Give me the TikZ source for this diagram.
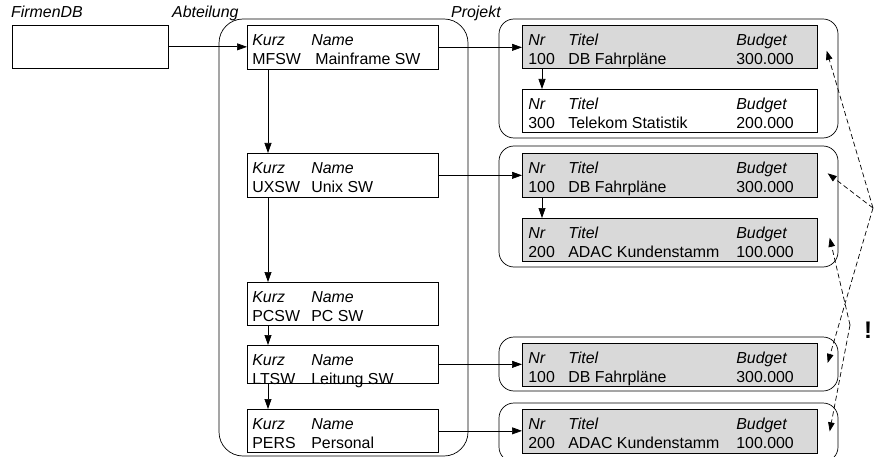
\documentclass[tikz,border=0pt]{standalone}
\usepackage{fontspec}
\setmainfont{Liberation Sans}
\usepackage{tikz}
\usetikzlibrary{arrows.meta, calc}

\definecolor{prjgrey}{RGB}{217,217,217}
\newcommand{\boxfont}{\fontsize{15.9}{19}\selectfont}
\newcommand{\abtrow}[3][59pt]{\makebox[59pt][l]{\itshape Kurz}{\itshape Name}\\\makebox[#1][l]{#2}#3}
\newcommand{\prjrow}[3]{\makebox[40pt][l]{\itshape Nr}\makebox[168pt][l]{\itshape Titel}{\itshape Budget}\\\makebox[40pt][l]{#1}\makebox[168pt][l]{#2}#3}

\tikzset{
  abtbox/.style={draw, line width=0.7pt, fill=white, anchor=north west,
    inner xsep=5pt, inner ysep=0pt, font=\boxfont,
    execute at begin node={\begin{minipage}[c][#1][t]{181pt}\rule{0pt}{20pt}},
    execute at end node={\end{minipage}}},
  abtbox/.default=44pt,
  prjbox/.style={draw, line width=0.7pt, fill=prjgrey, anchor=north west,
    inner xsep=6pt, inner ysep=0pt, font=\boxfont,
    execute at begin node={\begin{minipage}[c][#1][t]{283pt}\rule{0pt}{20pt}},
    execute at end node={\end{minipage}}},
  prjbox/.default=43pt,
  frame/.style={draw, line width=0.7pt, rounded corners=#1},
  frame/.default=15pt,
  lbl/.style={font=\boxfont\itshape, anchor=base west, inner sep=0pt},
  link/.style={line width=0.7pt, -{Triangle[length=10pt,width=7pt]}},
  hint/.style={line width=0.7pt, dash pattern=on 5pt off 3pt, -{Triangle[length=9pt,width=6.5pt]}}
}

\begin{document}
\begin{tikzpicture}[x=1pt, y=-1pt]
    \useasboundingbox (0,0) rectangle (885,457);
    % Labels
    \node[lbl] (lfirmen) at (11,18) {FirmenDB};
    \node[lbl] (labt) at (172,18) {Abteilung};
    \node[lbl] (lprj) at (451,18) {Projekt};
    % Frames
    \draw[frame=24pt] (219,19) rectangle (468,456);
    \draw[frame] (499,19) rectangle (838,138);
    \draw[frame] (499,146) rectangle (838,267);
    \draw[frame] (499,337) rectangle (838,391);
    \draw[frame] (499,403) rectangle (838,462);
    % FirmenDB
    \node[draw, line width=0.7pt, anchor=north west, minimum width=156pt, minimum height=43pt, inner sep=0pt] (firmen) at (12,25) {};
    % Abteilung
    \node[abtbox] (mfsw) at (247,25) {\abtrow[63pt]{MFSW}{Mainframe SW}};
    \node[abtbox] (uxsw) at (247,153) {\abtrow{UXSW}{Unix SW}};
    \node[abtbox=43pt] (pcsw) at (247,282) {\abtrow{PCSW}{PC SW}};
    \node[abtbox=38pt] (ltsw) at (247,345) {\abtrow{LTSW}{Leitung SW}};
    \node[abtbox=43pt] (pers) at (247,409) {\abtrow{PERS}{Personal}};
    % Projekt
    \node[prjbox] (db1) at (522,25) {\prjrow{100}{DB Fahrpläne}{300.000}};
    \node[prjbox, fill=white] (tel) at (522,89) {\prjrow{300}{Telekom Statistik}{200.000}};
    \node[prjbox=44pt] (db2) at (522,153) {\prjrow{100}{DB Fahrpläne}{300.000}};
    \node[prjbox] (adac1) at (522,218) {\prjrow{200}{ADAC Kundenstamm}{100.000}};
    \node[prjbox] (db3) at (522,343) {\prjrow{100}{DB Fahrpläne}{300.000}};
    \node[prjbox=44pt] (adac2) at (522,409) {\prjrow{200}{ADAC Kundenstamm}{100.000}};
    % Arrows
    \draw[link] (firmen.east) -- (firmen.east -| mfsw.west);
    \draw[link] ([xshift=21pt]mfsw.south west) -- ([xshift=21pt]uxsw.north west);
    \draw[link] ([xshift=21pt]uxsw.south west) -- ([xshift=21pt]pcsw.north west);
    \draw[link] ([xshift=21pt]pcsw.south west) -- ([xshift=21pt]ltsw.north west);
    \draw[link] ([xshift=21pt]ltsw.south west) -- ([xshift=21pt]pers.north west);
    \draw[link] (mfsw.east) -- (mfsw.east -| db1.west);
    \draw[link] (uxsw.east) -- (uxsw.east -| db2.west);
    \draw[link] (ltsw.east) -- (ltsw.east -| db3.west);
    \draw[link] (pers.east) -- (pers.east -| adac2.west);
    \draw[link] ([xshift=20pt]db1.south west) -- ([xshift=20pt]tel.north west);
    \draw[link] ([xshift=20pt]db2.south west) -- ([xshift=20pt]adac1.north west);
    % Redundancy hints
    \coordinate (s1) at (873,208);
    \coordinate (s2) at (850,325);
    \coordinate (t1) at ($(db1.east)+(9,4)$);
    \coordinate (t2) at ($(db2.east)+(10,-2)$);
    \coordinate (t3) at ($(db3.east)+(10,-2)$);
    \coordinate (t4) at ($(adac1.east)+(12,-2)$);
    \coordinate (t5) at ($(adac2.east)+(12,0)$);
    \draw[hint] (s1) -- (t1);
    \draw[hint] (s1) -- (t2);
    \draw[hint] (s1) -- (t3);
    \draw[hint] (s2) -- (t4);
    \draw[hint] (s2) -- (t5);
    \node[font=\fontsize{24}{28}\selectfont\bfseries] (warn) at (868,330) {!};
\end{tikzpicture}
\end{document}
